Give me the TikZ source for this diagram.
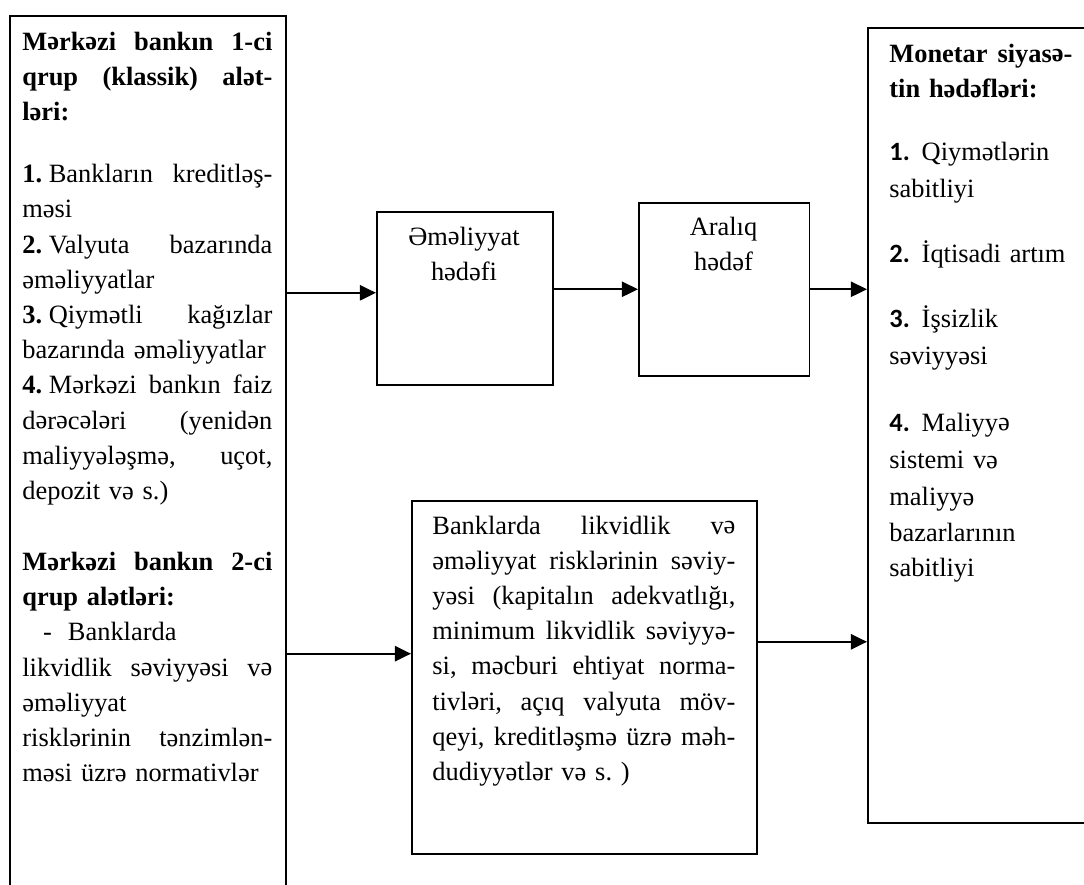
\documentclass[tikz,border=0pt]{standalone}
\usepackage{graphicx}
\usepackage{fontspec}
\setmainfont{Liberation Serif}
\newfontfamily\numfont{Carlito}
\usetikzlibrary{arrows.meta}
\frenchspacing

% schwa drawn as a turned e, as in the printed text
\catcode`ə=\active
\def ə{\rotatebox[origin=c]{180}{e}}

\tikzset{
  frame/.style={draw, line width=0.8pt, inner sep=0pt, anchor=north west},
  txt/.style={inner sep=0pt, font=\fontsize{14}{18.66}\selectfont},
  arr/.style={-{Triangle[length=8.5pt,width=8pt]}, line width=1.1pt},
}
% justified line and bold list number
\newlength{\jlw}
\newcommand{\jl}[1]{\leavevmode\hbox to \jlw{\spaceskip=\fontdimen2\font plus 1fil\relax #1}}
\newcommand{\nr}[1]{{\numfont\bfseries #1}\hspace{0.45em}}

\begin{document}
\begin{tikzpicture}[x=0.53pt, y=-0.53pt]
  \useasboundingbox (0,0) rectangle (1084,884);
  \clip (0,0) rectangle (1084,884);

  % frames
  \node[frame, minimum width=146.3pt, minimum height=480pt] (tools) at (9,15) {};
  \node[frame, minimum width=93.3pt, minimum height=91.7pt] (ops) at (376,211) {};
  \node[frame, minimum width=90.6pt, minimum height=91.7pt] (mid) at (638,202) {};
  \node[frame, minimum width=182.9pt, minimum height=187.1pt] (risk) at (411,500) {};
  \node[frame, minimum width=140pt, minimum height=421.4pt] (goals) at (867,27) {};

  % texts
  \node[txt, text width=132.5pt, align=left, anchor=base west] (tools-txt) at (22,50) {%
    \setlength{\jlw}{132.5pt}%
    \jl{\textbf{Mərkəzi bankın 1-ci}}\\
    \jl{\textbf{qrup (klassik) alət-}}\\
    \textbf{ləri:}\\[14.3pt]
    \jl{\textbf{1.}\hspace{0.25em}Bankların kreditləş-}\\
    məsi\\
    \jl{\textbf{2.}\hspace{0.25em}Valyuta bazarında}\\
    əməliyyatlar\\
    \jl{\textbf{3.}\hspace{0.25em}Qiymətli kağızlar}\\
    bazarında əməliyyatlar\\
    \jl{\textbf{4.}\hspace{0.25em}Mərkəzi bankın faiz}\\
    \jl{dərəcələri (yenidən}\\
    \jl{maliyyələşmə, uçot,}\\
    depozit və s.)\\[19pt]
    \jl{\textbf{Mərkəzi bankın 2-ci}}\\
    \textbf{qrup alətləri:}\\
    \hspace*{11pt}-\hspace{8.5pt}Banklarda\\
    \jl{likvidlik səviyyəsi və}\\
    əməliyyat\\
    \jl{risklərinin tənzimlən-}\\
    məsi üzrə normativlər};

  \node[txt, text width=84.8pt, align=center, anchor=base] (ops-txt) at (464,245) {Əməliyyat\\ hədəfi};
  \node[txt, text width=84.8pt, align=center, anchor=base] (mid-txt) at (723.5,235) {Aralıq\\ hədəf};

  \node[txt, text width=160.6pt, align=left, anchor=base west] (risk-txt) at (432,534) {%
    \setlength{\jlw}{160.6pt}%
    \jl{Banklarda likvidlik və}\\
    \jl{əməliyyat risklərinin səviy-}\\
    \jl{yəsi (kapitalın adekvatlığı,}\\
    \jl{minimum likvidlik səviyyə-}\\
    \jl{si, məcburi ehtiyat norma-}\\
    \jl{tivləri, açıq valyuta möv-}\\
    \jl{qeyi, kreditləşmə üzrə məh-}\\
    dudiyyətlər və s. )};

  \node[txt, text width=101.8pt, align=left, anchor=base west] (goals-txt) at (889,62) {%
    \setlength{\jlw}{97pt}%
    \jl{\textbf{Monetar siyasə-}}\\
    \textbf{tin hədəfləri:}\\[14.8pt]
    \nr{1.}Qiymətlərin\\[1pt]
    sabitliyi\\[15.9pt]
    \nr{2.}İqtisadi artım\\[15.9pt]
    \nr{3.}İşsizlik\\[1pt]
    səviyyəsi\\[16.4pt]
    \nr{4.}Maliyyə\\[1pt]
    sistemi və\\[1pt]
    maliyyə\\[0.5pt]
    bazarlarının\\
    sabitliyi};

  % connectors
  \coordinate (ops-in) at ([yshift=2.9pt]ops.west);
  \coordinate (risk-in) at ([yshift=12.5pt]risk.west);
  \coordinate (risk-out) at ([yshift=18.8pt]risk.east);
  \draw[arr] (tools.east |- ops-in) -- (ops-in);
  \draw[arr] (ops.east |- mid.west) -- (mid.west);
  \draw[arr] (mid.east) -- (mid.east -| goals.west);
  \draw[arr] (tools.east |- risk-in) -- (risk-in);
  \draw[arr] (risk-out) -- (risk-out -| goals.west);
\end{tikzpicture}
\end{document}
